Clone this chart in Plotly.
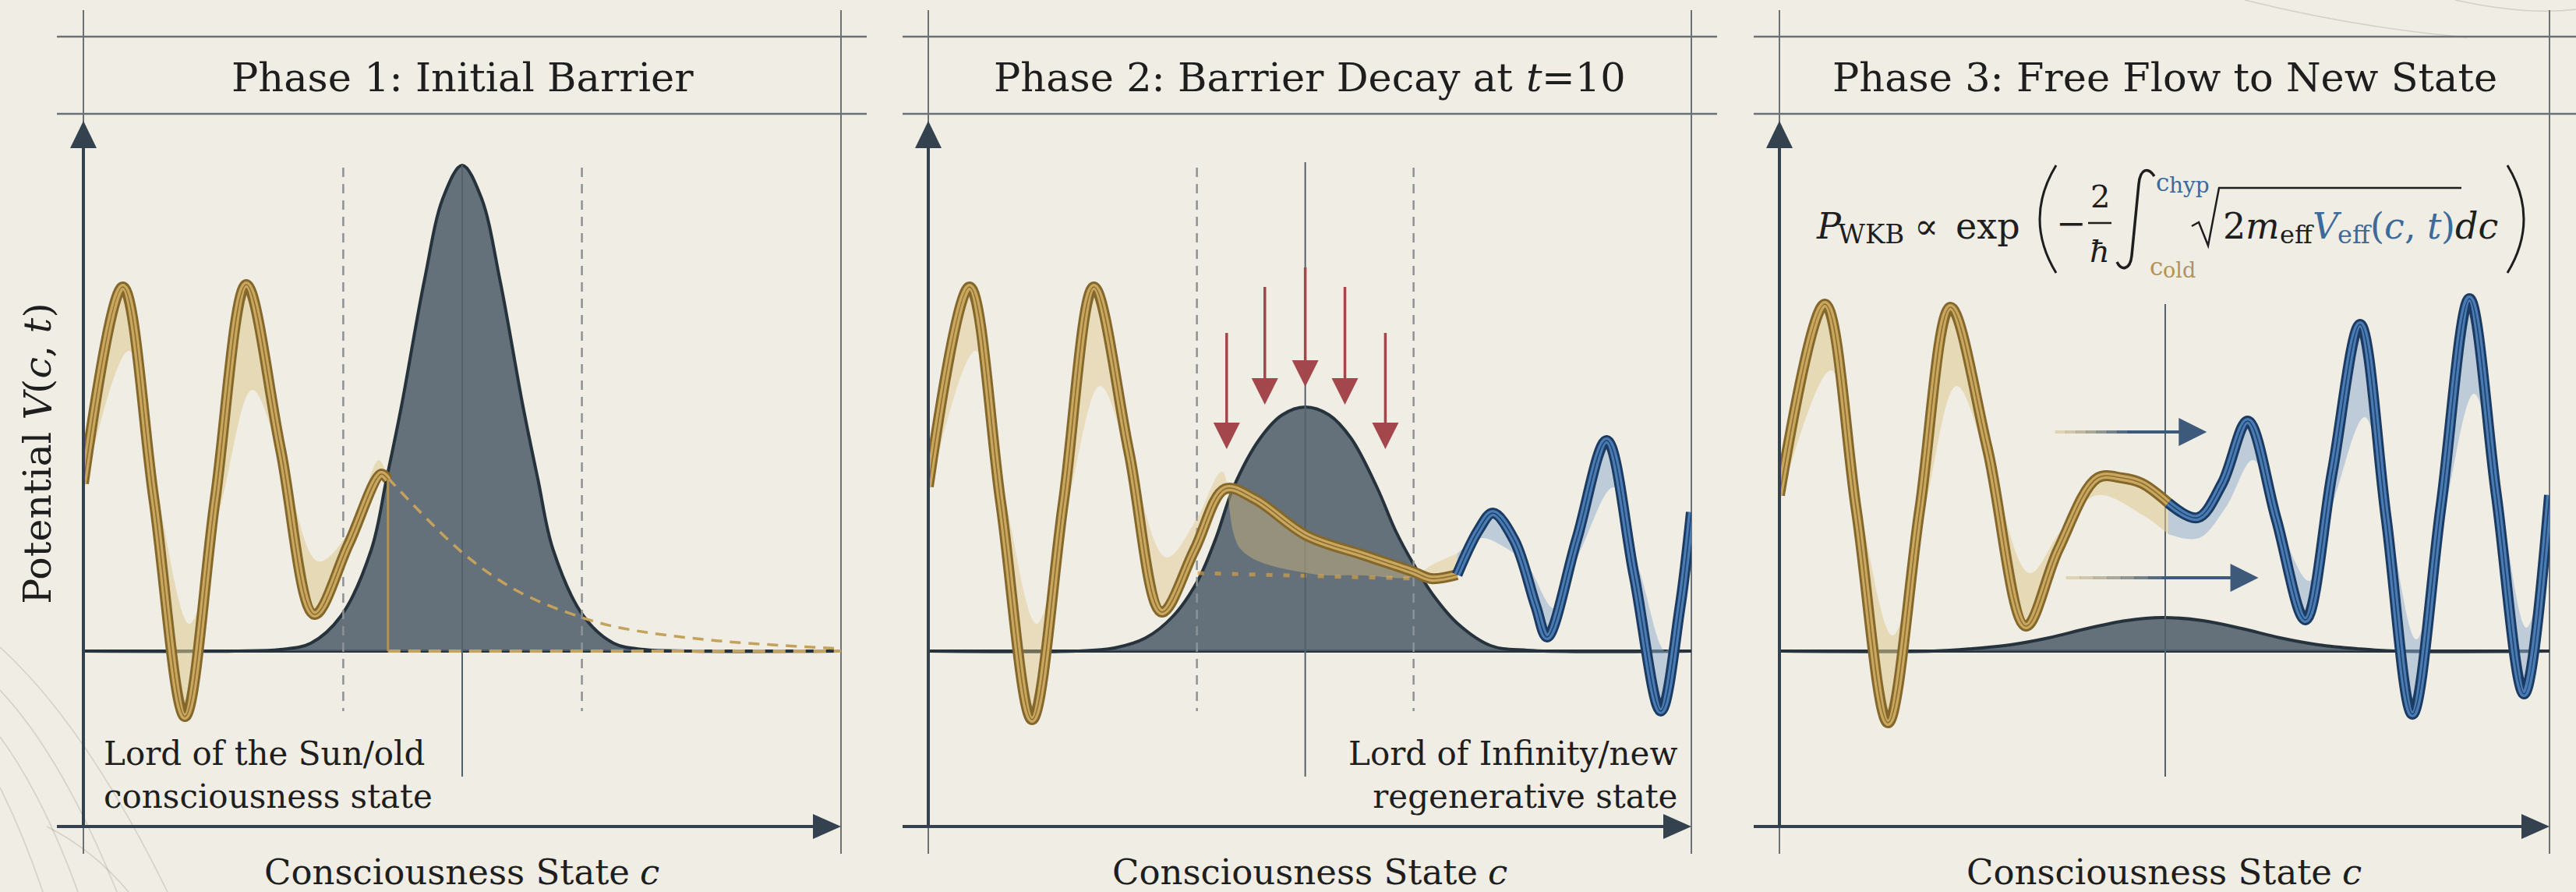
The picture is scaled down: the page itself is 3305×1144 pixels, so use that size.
import plotly.graph_objects as go

W, H = 3305, 1144
FONT = "DejaVu Serif"
BG = "#f0ede4"
INK = "#1e1e1e"
FRAME = "#6b7277"
AXIS = "#33424e"
BAR_LINE = "#26333d"
BAR_FILL = "rgba(80,95,107,0.88)"
RED = "#a3474c"
SLATE = (61, 90, 122)
GOLDRGB = (214, 188, 128)
F_BLUE = "#3b6a9b"
F_GOLD = "#b3925a"
GOLD = dict(edge="#84672b", core="#c9a75f", mid="#8c6e31", band="rgba(222,200,142,0.55)")
GOLD_OVER = dict(edge="#84672b", core="#c9a75f", mid="#8c6e31", band="rgba(222,196,130,0.40)")
BLUE = dict(edge="#1b3b62", core="#4a7cb3", mid="#1e426e", band="rgba(140,172,206,0.5)")

# ---------------- text ----------------
panel_titles = ["Phase 1: Initial Barrier",
                "Phase 2: Barrier Decay at",
                "Phase 3: Free Flow to New State"]
title2_var, title2_tail = "t", "=10"
x_title, x_var = "Consciousness State", "c"
y_title = "Potential"
old_state_label = "Lord of the Sun/old<br>consciousness state"
new_state_label = "Lord of Infinity/new<br>regenerative state"

# ---------------- phase 1 data (c, V) ----------------
p1_barrier_c = [0, 2.0, 2.6, 3.0, 3.4, 3.8, 4.0, 4.2, 4.5, 4.75, 5.0, 5.25, 5.5, 5.8, 6.0, 6.2, 6.6, 7.0, 7.4, 8.0, 10]
p1_barrier_v = [0, 0, 0.02, 0.10, 0.45, 1.30, 2.20, 3.15, 4.75, 5.82, 6.23, 5.82, 4.75, 3.15, 2.20, 1.30, 0.45, 0.10, 0.02, 0, 0]
p1_wave_c = [0, 0.52, 0.93, 1.34, 1.74, 2.15, 2.60, 3.05, 3.50, 3.93, 4.02]
p1_wave_v = [2.15, 4.67, 1.95, -0.84, 1.95, 4.70, 2.60, 0.47, 1.37, 2.27, 2.20]
p1_band_c = [0, 0.60, 1.00, 1.40, 1.82, 2.23, 2.66, 3.10, 3.52, 3.90, 4.02]
p1_band_v = [2.05, 3.85, 1.90, 0.35, 1.90, 3.35, 2.30, 1.15, 1.55, 2.45, 2.20]
p1_tail_c = [4.02, 5.03, 5.75, 6.58, 7.13, 8.28, 10.0]
p1_tail_v = [2.22, 1.24, 0.76, 0.43, 0.29, 0.14, 0.03]
p1_turning_c = 4.02
p1_dashed_c = [3.43, 6.58]
p1_center_c = 5.0

# ---------------- phase 2 data ----------------
p2_barrier_c = [0, 1.93, 2.44, 2.85, 3.21, 3.53, 3.77, 4.00, 4.35, 4.64, 4.94, 5.25, 5.54, 5.88, 6.12, 6.35, 6.63, 6.94, 7.37, 7.85, 10]
p2_barrier_v = [0, 0, 0.04, 0.17, 0.45, 0.90, 1.45, 2.10, 2.73, 3.03, 3.13, 3.03, 2.73, 2.10, 1.55, 1.13, 0.70, 0.35, 0.07, 0.01, 0]
p2_gold_c = [0, 0.54, 0.95, 1.36, 1.77, 2.17, 2.63, 3.06, 3.49, 3.89, 4.28, 4.96, 5.71, 6.35, 6.59, 6.93]
p2_gold_v = [2.11, 4.67, 1.90, -0.88, 1.90, 4.67, 2.55, 0.50, 1.30, 2.08, 1.95, 1.48, 1.23, 1.02, 0.93, 0.98]
p2_gold_band_c = [0, 0.62, 1.02, 1.42, 1.83, 2.25, 2.68, 3.12, 3.52, 3.85, 4.10, 4.96, 5.71, 6.35, 6.59, 6.93]
p2_gold_band_v = [2.00, 3.85, 1.90, 0.35, 1.90, 3.40, 2.30, 1.20, 1.70, 2.30, 1.30, 1.00, 0.97, 0.95, 1.10, 1.25]
p2_blue_c = [6.93, 7.21, 7.40, 7.68, 7.96, 8.11, 8.50, 8.89, 9.25, 9.60, 9.85, 10.0]
p2_blue_v = [0.98, 1.55, 1.77, 1.42, 0.58, 0.18, 1.44, 2.70, 0.97, -0.77, 0.55, 1.78]
p2_blue_band_c = [6.93, 7.25, 7.52, 7.85, 8.20, 8.55, 8.98, 9.33, 9.66, 9.90, 10.0]
p2_blue_band_v = [1.25, 1.45, 1.35, 1.10, 0.55, 1.30, 2.10, 1.00, 0.00, 0.60, 1.30]
p2_inner_c = [3.53, 6.36]
p2_inner_v = [1.00, 0.93]
p2_dashed_c = [3.52, 6.36]
p2_center_c = 4.94
p2_push_c = [3.91, 4.41, 4.94, 5.46, 5.99]
p2_push_top = [4.08, 4.67, 4.92, 4.67, 4.08]
p2_push_tip = [2.59, 3.16, 3.39, 3.16, 2.59]

# ---------------- phase 3 data ----------------
p3_barrier_c = [0, 2.0, 2.5, 3.0, 3.5, 4.0, 4.5, 4.97, 5.5, 6.0, 6.5, 7.0, 7.5, 8.0, 10]
p3_barrier_v = [0, 0, 0.03, 0.08, 0.17, 0.29, 0.39, 0.43, 0.39, 0.29, 0.17, 0.08, 0.03, 0, 0]
p3_gold_c = [0, 0.59, 1.00, 1.41, 1.82, 2.22, 2.70, 3.20, 3.62, 4.13, 4.45, 4.71, 5.05]
p3_gold_v = [2.00, 4.45, 1.80, -0.92, 1.80, 4.41, 2.60, 0.32, 1.30, 2.22, 2.22, 2.15, 1.90]
p3_gold_band_c = [0, 0.67, 1.05, 1.47, 1.88, 2.30, 2.75, 3.25, 3.66, 4.13, 4.71, 5.05]
p3_gold_band_v = [1.90, 3.60, 1.80, 0.20, 1.80, 3.40, 2.30, 1.00, 1.55, 2.00, 1.75, 1.50]
p3_blue_c = [5.05, 5.43, 5.75, 6.08, 6.45, 6.83, 7.18, 7.54, 7.88, 8.22, 8.59, 8.96, 9.31, 9.67, 10.0]
p3_blue_v = [1.90, 1.71, 2.15, 2.95, 1.70, 0.40, 2.30, 4.19, 1.70, -0.81, 1.85, 4.52, 2.00, -0.55, 2.00]
p3_blue_band_c = [5.05, 5.45, 5.80, 6.15, 6.50, 6.88, 7.22, 7.60, 7.92, 8.27, 8.63, 9.02, 9.36, 9.70, 10.0]
p3_blue_band_v = [1.50, 1.45, 1.85, 2.45, 1.60, 0.90, 2.00, 3.00, 1.65, 0.15, 1.75, 3.30, 1.90, 0.30, 1.60]
p3_center_c = 5.01
p3_flow_start_c = [3.58, 3.72]
p3_flow_end_c = [5.55, 6.22]
p3_flow_v = [2.81, 0.94]

# vertical extents of the guide lines (V units)
guide_top_v = [6.23, 6.27, 4.45]
guide_bottom_v = -1.61
dashed_top_v, dashed_bottom_v = 6.20, -0.77

# ---------------- geometry (pixels) ----------------
PANEL_X = [(107, 1079), (1191, 2170), (2283, 3271)]
RULE_X = [(73, 1112), (1158, 2203), (2250, 3305)]
PLOT_TOP, PLOT_BOT = 13, 1095
BASE_Y = 835
PX_PER_V = 100.0
X_AXIS_Y = 1060
Y_TIP = 155
C_MAX = 10


def fx(p):
    return p / W


def fy(p):
    return 1 - p / H


def ppc(i):
    return (PANEL_X[i][1] - PANEL_X[i][0]) / C_MAX


def sub(i):
    return "" if i == 0 else str(i + 1)


fig = go.Figure()
axes = {}
for i, (x0, x1) in enumerate(PANEL_X):
    s = sub(i)
    axes["xaxis" + s] = dict(domain=[fx(x0), fx(x1)], range=[0, C_MAX], visible=False,
                             anchor="y" + s, fixedrange=True)
    axes["yaxis" + s] = dict(domain=[fy(PLOT_BOT), fy(PLOT_TOP)],
                             range=[(BASE_Y - PLOT_BOT) / PX_PER_V, (BASE_Y - PLOT_TOP) / PX_PER_V],
                             visible=False, anchor="x" + s, fixedrange=True)


def xy(i):
    return dict(xaxis="x" + sub(i), yaxis="y" + sub(i))


def line(i, c, v, color, width, dash=None, shape="spline"):
    fig.add_trace(go.Scatter(x=c, y=v, mode="lines",
                             line=dict(color=color, width=width, dash=dash, shape=shape),
                             hoverinfo="skip", showlegend=False, **xy(i)))


def ribbon(i, c, v, bc, bv, pal):
    fig.add_trace(go.Scatter(x=bc, y=bv, mode="lines",
                             line=dict(width=0, shape="spline", color="rgba(0,0,0,0)"),
                             hoverinfo="skip", showlegend=False, **xy(i)))
    fig.add_trace(go.Scatter(x=c, y=v, mode="lines",
                             line=dict(width=0, shape="spline", color="rgba(0,0,0,0)"),
                             fill="tonexty", fillcolor=pal["band"],
                             hoverinfo="skip", showlegend=False, **xy(i)))
    line(i, c, v, pal["edge"], 14)
    line(i, c, v, pal["core"], 8)
    line(i, c, v, pal["mid"], 1.6)


def barrier(i, c, v):
    line(i, [0, C_MAX], [0, 0], BAR_LINE, 4, shape="linear")
    fig.add_trace(go.Scatter(x=c, y=v, mode="lines",
                             line=dict(color=BAR_LINE, width=4, shape="spline"),
                             fill="tozeroy", fillcolor=BAR_FILL,
                             hoverinfo="skip", showlegend=False, **xy(i)))


def guides(i, center_c, top_v, dashed):
    line(i, [center_c, center_c], [top_v, guide_bottom_v], "#55616a", 2, shape="linear")
    for dc in dashed:
        line(i, [dc, dc], [dashed_top_v, dashed_bottom_v], "#8d9296", 2.5, dash="12px,9px", shape="linear")


# ---- phase 1 ----
barrier(0, p1_barrier_c, p1_barrier_v)
guides(0, p1_center_c, guide_top_v[0], p1_dashed_c)
line(0, [p1_turning_c, C_MAX], [0, 0], "#c4a25e", 4, dash="16px,10px", shape="linear")
line(0, p1_tail_c, p1_tail_v, "#c4a25e", 3.5, dash="14px,10px")
ribbon(0, p1_wave_c, p1_wave_v, p1_band_c, p1_band_v, GOLD)
line(0, [p1_turning_c, p1_turning_c], [p1_wave_v[-1], 0], "#b3924f", 3, shape="linear")

# ---- phase 2 ----
barrier(1, p2_barrier_c, p2_barrier_v)
line(1, p2_inner_c, p2_inner_v, "rgba(214,160,70,0.7)", 5, dash="8px,14px", shape="linear")
guides(1, p2_center_c, guide_top_v[1], p2_dashed_c)
ribbon(1, p2_gold_c, p2_gold_v, p2_gold_band_c, p2_gold_band_v, GOLD_OVER)
ribbon(1, p2_blue_c, p2_blue_v, p2_blue_band_c, p2_blue_band_v, BLUE)

# ---- phase 3 ----
barrier(2, p3_barrier_c, p3_barrier_v)
guides(2, p3_center_c, guide_top_v[2], [])
ribbon(2, p3_gold_c, p3_gold_v, p3_gold_band_c, p3_gold_band_v, GOLD)
ribbon(2, p3_blue_c, p3_blue_v, p3_blue_band_c, p3_blue_band_v, BLUE)

# ---------------- shapes ----------------
shapes = []


def pline(x0, y0, x1, y1, color, width, layer="below"):
    shapes.append(dict(type="line", xref="paper", yref="paper", x0=fx(x0), y0=fy(y0),
                       x1=fx(x1), y1=fy(y1), line=dict(color=color, width=width), layer=layer))


def ppath(d, color, width=0, fill=None, layer="above"):
    out = []
    for tok in d:
        if isinstance(tok, str):
            out.append(tok)
        else:
            out.append(f"{fx(tok[0]):.5f},{fy(tok[1]):.5f}")
    shp = dict(type="path", xref="paper", yref="paper", path=" ".join(out),
               line=dict(color=color, width=width), layer=layer)
    if fill:
        shp["fillcolor"] = fill
    shapes.append(shp)


# faint decorative contour lines
for d in [["M", (0, 830), "Q", (110, 930), (215, 1144)],
          ["M", (0, 885), "Q", (80, 970), (150, 1144)],
          ["M", (0, 945), "Q", (55, 1020), (100, 1144)],
          ["M", (0, 1010), "Q", (30, 1070), (55, 1144)],
          ["M", (60, 1060), "Q", (120, 1090), (165, 1144)],
          ["M", (2880, 0), "Q", (3020, 35), (3165, 48)],
          ["M", (3150, 0), "Q", (3240, 20), (3305, 12)]]:
    ppath(d, "rgba(110,110,105,0.22)", 1.6, layer="below")

for i, (x0, x1) in enumerate(PANEL_X):
    r0, r1 = RULE_X[i]
    pline(x0, PLOT_TOP, x0, PLOT_BOT, FRAME, 2)
    pline(x1, PLOT_TOP, x1, PLOT_BOT, FRAME, 2)
    pline(r0, 47, r1, 47, FRAME, 2.5)
    pline(r0, 146, r1, 146, FRAME, 2.5)
    pline(x0, X_AXIS_Y, x0, Y_TIP + 30, AXIS, 4, layer="above")
    ppath(["M", (x0 - 17, Y_TIP + 35), "L", (x0 + 17, Y_TIP + 35), "L", (x0, Y_TIP), "Z"], AXIS, 0, AXIS)
    pline(r0, X_AXIS_Y, x1 - 30, X_AXIS_Y, AXIS, 4, layer="above")
    ppath(["M", (x1 - 36, X_AXIS_Y - 16), "L", (x1 - 36, X_AXIS_Y + 16), "L", (x1, X_AXIS_Y), "Z"], AXIS, 0, AXIS)

# red push-down arrows (phase 2)
hl = 34 / PX_PER_V
hw = 17 / ppc(1)
for c, top, tip in zip(p2_push_c, p2_push_top, p2_push_tip):
    shapes.append(dict(type="line", xref="x2", yref="y2", x0=c, x1=c, y0=top, y1=tip + hl * 0.8,
                       line=dict(color=RED, width=3.5)))
    shapes.append(dict(type="path", xref="x2", yref="y2",
                       path=f"M {c - hw},{tip + hl} L {c + hw},{tip + hl} L {c},{tip} Z",
                       fillcolor=RED, line=dict(width=0)))

# flow arrows (phase 3) with gold-to-slate tail
hl3 = 36 / ppc(2)
hw3 = 18 / PX_PER_V
NSEG = 12
for cs, ce, v in zip(p3_flow_start_c, p3_flow_end_c, p3_flow_v):
    base = ce - hl3
    for k in range(NSEG):
        a = cs + (base - cs) * k / NSEG
        b = cs + (base - cs) * (k + 1) / NSEG + 0.01
        t = min(1.0, (k + 0.5) / NSEG / 0.6)
        rgb = [round(GOLDRGB[j] * (1 - t) + SLATE[j] * t) for j in range(3)]
        alpha = 0.45 + 0.55 * t
        shapes.append(dict(type="line", xref="x3", yref="y3", x0=a, x1=b, y0=v, y1=v,
                           line=dict(color=f"rgba({rgb[0]},{rgb[1]},{rgb[2]},{alpha:.2f})", width=4)))
    shapes.append(dict(type="path", xref="x3", yref="y3",
                       path=f"M {base},{v - hw3} L {base},{v + hw3} L {ce},{v} Z",
                       fillcolor="rgb(61,90,122)", line=dict(width=0)))

# formula strokes: parentheses, fraction bar, integral sign, radical
ppath(["M", (2638, 212), "Q", (2596, 281), (2638, 350)], INK, 3)
ppath(["M", (3217, 212), "Q", (3259, 281), (3217, 350)], INK, 3)
pline(2679, 286, 2709, 286, INK, 2.5, layer="above")
ppath(["M", (2764, 226), "C", (2756, 214), (2746, 216), (2744, 236),
       "L", (2735, 328),
       "C", (2733, 346), (2722, 348), (2716, 336)], INK, 3.5)
ppath(["M", (2812, 290), "L", (2821, 285), "L", (2833, 315), "L", (2847, 241), "L", (3158, 241)], INK, 2.5)

# ---------------- annotations ----------------
annots = []
EM = {' ': .35, 'C': .715, 'o': .602, 'n': .644, 's': .513, 'c': .56, 'i': .32, 'u': .644,
      'e': .592, 'S': .645, 't': .402, 'a': .596, 'P': .603, 'l': .32, 'V': .68, '(': .39,
      ')': .39, ',': .318, 'h': .644, '2': .636, ':': .337, 'B': .685, 'r': .478, 'D': .77,
      'y': .565, '=': .838, '1': .636, '0': .636, 'W': 1.03, 'K': .775, '∝': .838, 'x': .564,
      'p': .64, 'm': .948, 'f': .37, 'd': .64, 'ħ': .644}


def tw(s, size):
    return sum(EM.get(ch, 0.6) for ch in s) * size


def text(x, y, s, size, xanchor="center", yanchor="middle", color=INK, align="center",
         angle=0, italic=False):
    annots.append(dict(x=fx(x), y=fy(y), xref="paper", yref="paper", text=s, showarrow=False,
                       xanchor=xanchor, yanchor=yanchor, align=align, textangle=angle,
                       borderpad=0, borderwidth=0,
                       font=dict(size=size, color=color, family=FONT,
                                 style="italic" if italic else "normal")))


def run(x, y, pieces, center=False, vertical=False):
    """pieces: (text, size, italic, color, dy). Laid out left-to-right (or bottom-to-top)."""
    total = sum(tw(p[0], p[1]) for p in pieces)
    if not vertical:
        cur = x - total / 2 if center else x
        for p in pieces:
            t, size = p[0], p[1]
            it = p[2] if len(p) > 2 else False
            col = p[3] if len(p) > 3 else INK
            dy = p[4] if len(p) > 4 else 0
            if t.strip():
                text(cur, y + dy, t, size, xanchor="left", color=col, italic=it)
            cur += tw(t, size)
    else:
        cur = y + total / 2
        for p in pieces:
            t, size = p[0], p[1]
            it = p[2] if len(p) > 2 else False
            if t.strip():
                text(x, cur, t, size, xanchor="center", yanchor="bottom", angle=-90, italic=it)
            cur -= tw(t, size)


for i, (x0, x1) in enumerate(PANEL_X):
    cx = (x0 + x1) / 2
    if i == 1:
        run(cx, 100, [(panel_titles[1], 51), (" ", 51), (title2_var, 51, True), (title2_tail, 51)],
            center=True)
    else:
        text(cx, 100, panel_titles[i], 51)
    run(cx, 1118, [(x_title, 45), (" ", 45), (x_var, 45, True)], center=True)

run(49, 582, [(y_title, 49), (" ", 49), ("V", 49, True), ("(", 49), ("c", 49, True),
              (",", 49), (" ", 44), ("t", 49, True), (")", 49)], vertical=True)

text(133, 994, old_state_label, 42, xanchor="left", align="left")
text(2152, 994, new_state_label, 42, xanchor="right", align="right")

# WKB formula
run(2330, 290, [("P", 46, True), ("WKB", 34, False, INK, 10), (" ", 40), ("∝", 46), (" ", 40),
                ("exp", 46)])
text(2657, 286, "−", 46)
text(2694, 252, "2", 40)
text(2694, 322, "ħ", 40, italic=True)
run(2766, 234, [("c", 31, False, F_BLUE), ("hyp", 28, False, F_BLUE, 4)])
run(2758, 342, [("c", 31, False, F_GOLD), ("old", 27, False, F_GOLD, 4)])
run(2852, 290, [("2", 46), ("m", 46, True), ("eff", 32, False, INK, 11),
                ("V", 46, True, F_BLUE), ("eff", 32, False, F_BLUE, 11), ("(", 46, False, F_BLUE),
                ("c", 46, True, F_BLUE), (",", 46, False, F_BLUE), (" ", 40),
                ("t", 46, True, F_BLUE), (")", 46, False, F_BLUE), ("dc", 46, True)])

fig.update_layout(width=W, height=H, margin=dict(l=0, r=0, t=0, b=0),
                  paper_bgcolor=BG, plot_bgcolor="rgba(0,0,0,0)", showlegend=False,
                  font=dict(family=FONT, color=INK), shapes=shapes, annotations=annots, **axes)

fig.write_html("out.html", include_plotlyjs=True, config={"displayModeBar": False},
               post_script="document.body.style.margin='0';document.body.style.background='" + BG + "';")
